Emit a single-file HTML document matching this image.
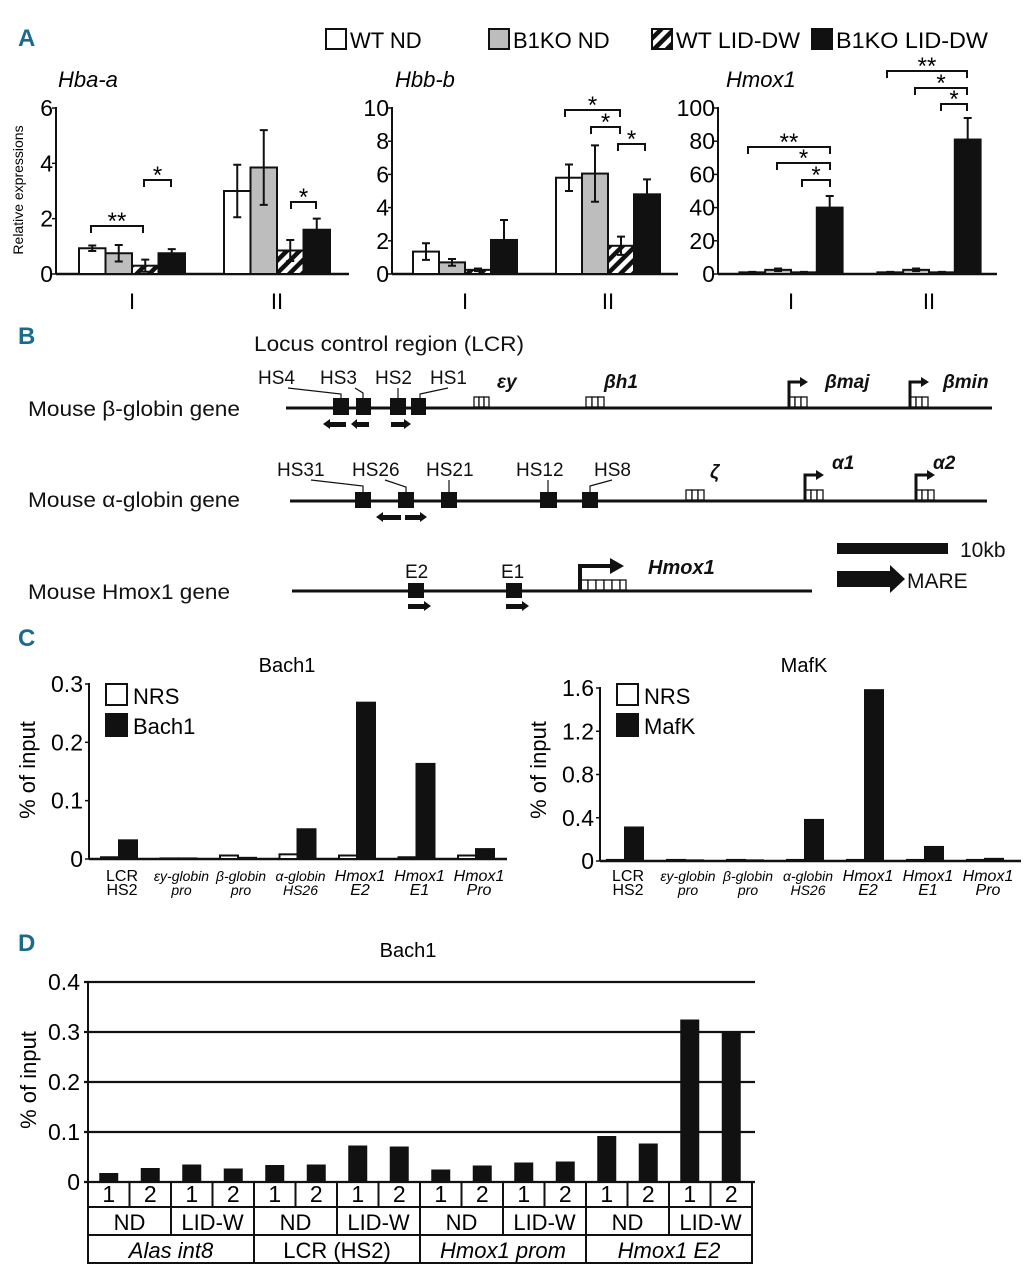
<!DOCTYPE html>
<html><head><meta charset="utf-8">
<style>
html,body{margin:0;padding:0;background:#fff;}
svg{display:block;font-family:"Liberation Sans",Arial,sans-serif;}
.pl{fill:#1b6b8f;font-weight:bold;font-size:24px;}
</style></head>
<body>
<svg id="fig" width="1034" height="1280" viewBox="0 0 1034 1280" xmlns="http://www.w3.org/2000/svg">
<defs>
<pattern id="hatch" patternUnits="userSpaceOnUse" width="9" height="9" patternTransform="rotate(45)">
<rect width="9" height="9" fill="#fff"/><rect width="4.5" height="9" fill="#111"/>
</pattern>
</defs>
<text class="pl" x="18" y="46">A</text>
<text class="pl" x="18" y="344">B</text>
<text class="pl" x="18" y="646">C</text>
<text class="pl" x="18" y="951">D</text>

<g font-size="22">
<g><rect x="326" y="29" width="20" height="20" fill="#fff" stroke="#111" stroke-width="2"/><text x="350" y="48">WT ND</text></g>
<g><rect x="489" y="29" width="20" height="20" fill="#bdbdbd" stroke="#111" stroke-width="2"/><text x="513" y="48">B1KO ND</text></g>
<g><rect x="652" y="29" width="20" height="20" fill="url(#hatch)" stroke="#111" stroke-width="2"/><text x="676" y="48" textLength="124" lengthAdjust="spacingAndGlyphs">WT LID-DW</text></g>
<g><rect x="812" y="29" width="20" height="20" fill="#111" stroke="#111" stroke-width="2"/><text x="836" y="48" textLength="152" lengthAdjust="spacingAndGlyphs">B1KO LID-DW</text></g>
</g>
<text x="23" y="190" font-size="14" text-anchor="middle" transform="rotate(-90 23 190)">Relative expressions</text>
<g id="panelA"></g>

<g id="panelB" font-size="21" fill="#111">
<text x="254" y="351" textLength="270" lengthAdjust="spacingAndGlyphs">Locus control region (LCR)</text>
<text x="28" y="416" textLength="212" lengthAdjust="spacingAndGlyphs">Mouse β-globin gene</text>
<line x1="286" y1="408" x2="992" y2="408" stroke="#111" stroke-width="3"/>
<g>
<rect x="333" y="398" width="16" height="17"/><rect x="356" y="398" width="15" height="17"/><rect x="390" y="398" width="16" height="17"/><rect x="411" y="398" width="15" height="17"/>
</g>
<g font-size="19">
<text x="258" y="384">HS4</text><text x="320" y="384">HS3</text><text x="375" y="384">HS2</text><text x="430" y="384">HS1</text>
</g>
<g stroke="#111" stroke-width="1.2" fill="none">
<polyline points="288,388 341,394 341,398"/><polyline points="355,388 363,393 363,398"/><line x1="398" y1="388" x2="398" y2="398"/><polyline points="448,388 420,394 420,398"/>
</g>
<g>
<polygon points="323,424 330,419 330,422 346,422 346,427 330,427 330,429"/>
<polygon points="351,424 357,419 357,422 369,422 369,427 357,427 357,429"/>
<polygon points="411,424 404,419 404,422 391,422 391,427 404,427 404,429"/>
</g>
<g fill="#fff" stroke="#111" stroke-width="1.3">
<rect x="474" y="397" width="5" height="10"/><rect x="479" y="397" width="5" height="10"/><rect x="484" y="397" width="5" height="10"/>
<rect x="586" y="397" width="6" height="10"/><rect x="592" y="397" width="6" height="10"/><rect x="598" y="397" width="6" height="10"/>
<rect x="789" y="397" width="6" height="10"/><rect x="795" y="397" width="6" height="10"/><rect x="801" y="397" width="6" height="10"/>
<rect x="910" y="397" width="6" height="10"/><rect x="916" y="397" width="6" height="10"/><rect x="922" y="397" width="6" height="10"/>
</g>
<g stroke="#111" stroke-width="3" fill="none">
<polyline points="789,407 789,382 800,382"/><polyline points="910,407 910,382 921,382"/>
</g>
<polygon points="800,377 808,382 800,387"/><polygon points="921,377 929,382 921,387"/>
<g font-weight="bold" font-style="italic" font-size="19">
<text x="497" y="388">εy</text><text x="604" y="388">βh1</text><text x="825" y="388">βmaj</text><text x="943" y="388">βmin</text>
</g>

<text x="28" y="507" textLength="212" lengthAdjust="spacingAndGlyphs">Mouse α-globin gene</text>
<line x1="290" y1="501" x2="987" y2="501" stroke="#111" stroke-width="3"/>
<g>
<rect x="355" y="492" width="16" height="16"/><rect x="398" y="492" width="16" height="16"/><rect x="441" y="492" width="16" height="16"/><rect x="540" y="492" width="17" height="16"/><rect x="582" y="492" width="16" height="16"/>
</g>
<g font-size="19">
<text x="277" y="476">HS31</text><text x="352" y="476">HS26</text><text x="426" y="476">HS21</text><text x="516" y="476">HS12</text><text x="594" y="476">HS8</text>
</g>
<g stroke="#111" stroke-width="1.2" fill="none">
<polyline points="311,480 363,486 363,492"/><polyline points="385,480 406,487 406,492"/><line x1="449" y1="480" x2="449" y2="492"/><line x1="548" y1="480" x2="548" y2="492"/><polyline points="612,480 590,486 590,492"/>
</g>
<polygon points="376,517 383,512 383,515 401,515 401,520 383,520 383,522"/>
<polygon points="427,517 420,512 420,515 405,515 405,520 420,520 420,522"/>
<g fill="#fff" stroke="#111" stroke-width="1.3">
<rect x="686" y="490" width="6" height="10"/><rect x="692" y="490" width="6" height="10"/><rect x="698" y="490" width="6" height="10"/>
<rect x="805" y="490" width="6" height="10"/><rect x="811" y="490" width="6" height="10"/><rect x="817" y="490" width="6" height="10"/>
<rect x="916" y="490" width="6" height="10"/><rect x="922" y="490" width="6" height="10"/><rect x="928" y="490" width="6" height="10"/>
</g>
<g stroke="#111" stroke-width="3" fill="none">
<polyline points="805,500 805,475 816,475"/><polyline points="916,500 916,475 927,475"/>
</g>
<polygon points="816,470 824,475 816,480"/><polygon points="927,470 935,475 927,480"/>
<g font-weight="bold" font-style="italic" font-size="19">
<text x="710" y="478">ζ</text><text x="832" y="469">α1</text><text x="933" y="469">α2</text>
</g>

<text x="28" y="599" textLength="202" lengthAdjust="spacingAndGlyphs">Mouse Hmox1 gene</text>
<line x1="292" y1="591" x2="812" y2="591" stroke="#111" stroke-width="3"/>
<rect x="408" y="583" width="16" height="15"/><rect x="506" y="583" width="16" height="15"/>
<g font-size="19"><text x="405" y="578">E2</text><text x="501" y="578">E1</text></g>
<polygon points="431,606 424,601 424,604 408,604 408,609 424,609 424,611"/>
<polygon points="529,606 522,601 522,604 506,604 506,609 522,609 522,611"/>
<g fill="#fff" stroke="#111" stroke-width="1.3">
<rect x="580" y="580" width="8" height="10"/><rect x="588" y="580" width="8" height="10"/><rect x="596" y="580" width="8" height="10"/><rect x="604" y="580" width="8" height="10"/><rect x="612" y="580" width="8" height="10"/><rect x="620" y="580" width="6" height="10"/>
</g>
<polyline points="580,590 580,566 612,566" stroke="#111" stroke-width="4" fill="none"/>
<polygon points="610,558 624,566 610,574"/>
<text x="648" y="574" font-weight="bold" font-style="italic" font-size="20">Hmox1</text>
<g><rect x="837" y="543" width="111" height="11"/><text x="960" y="557">10kb</text></g>
<g><polygon points="837,571 890,571 890,565 905,579 890,593 890,587 837,587"/><text x="907" y="588">MARE</text></g>
</g>

<g id="panelC"></g>
<g id="panelD"></g>
</svg>
<script>
// ---------- Panel A data ----------
const aGroups = ['I', 'II'];
const aSeries = ['WT ND', 'B1KO ND', 'WT LID-DW', 'B1KO LID-DW'];
const hbaVals = [[0.93, 0.75, 0.3, 0.75], [3.0, 3.85, 0.85, 1.6]];
const hbaErr = [[0.1, 0.3, 0.22, 0.15], [0.95, 1.35, 0.38, 0.4]];
const hbaTicks = [0, 2, 4, 6];
const hbbVals = [[1.35, 0.7, 0.25, 2.05], [5.8, 6.05, 1.7, 4.8]];
const hbbErr = [[0.5, 0.2, 0.08, 1.2], [0.8, 1.7, 0.55, 0.9]];
const hbbTicks = [0, 2, 4, 6, 8, 10];
const hmoxVals = [[1, 2.5, 1, 40], [1, 2.5, 1, 81]];
const hmoxErr = [[0.3, 0.8, 0.3, 7], [0.3, 0.8, 0.3, 13]];
const hmoxTicks = [0, 20, 40, 60, 80, 100];
// ---------- Panel C data ----------
const cCats = [['LCR', 'HS2'], ['εy-globin', 'pro'], ['β-globin', 'pro'], ['α-globin', 'HS26'], ['Hmox1', 'E2'], ['Hmox1', 'E1'], ['Hmox1', 'Pro']];
const cItalic = [false, true, true, true, true, true, true];
const bachNRS = [0.003, 0.001, 0.006, 0.008, 0.006, 0.003, 0.006];
const bachIP = [0.032, 0.001, 0.002, 0.051, 0.268, 0.163, 0.017];
const bachTicks = ['0', '0.1', '0.2', '0.3'];
const mafNRS = [0.01, 0.01, 0.01, 0.01, 0.01, 0.01, 0.01];
const mafIP = [0.31, 0.006, 0.006, 0.38, 1.58, 0.13, 0.02];
const mafTicks = ['0', '0.4', '0.8', '1.2', '1.6'];
// ---------- Panel D data ----------
const dReps = ['1', '2', '1', '2', '1', '2', '1', '2', '1', '2', '1', '2', '1', '2', '1', '2'];
const dDiets = ['ND', 'LID-W', 'ND', 'LID-W', 'ND', 'LID-W', 'ND', 'LID-W'];
const dRegions = ['Alas int8', 'LCR (HS2)', 'Hmox1 prom', 'Hmox1 E2'];
const dRegionItalic = [true, false, true, true];
const dVals = [0.018, 0.028, 0.035, 0.027, 0.034, 0.035, 0.073, 0.071, 0.025, 0.033, 0.039, 0.041, 0.092, 0.077, 0.325, 0.300];
const dTicks = ['0', '0.1', '0.2', '0.3', '0.4'];

const NS = 'http://www.w3.org/2000/svg';
function mk(tag, attrs, parent) {
  const e = document.createElementNS(NS, tag);
  for (const k in attrs) e.setAttribute(k, attrs[k]);
  parent.appendChild(e);
  return e;
}
const fills = ['#fff', '#bdbdbd', 'url(#hatch)', '#111'];

function panelA(parent, cfg, vals, errs, ticks) {
  const g = mk('g', {}, parent);
  
  
  const max = ticks[ticks.length - 1];
  const y = v => cfg.y0 - (v / max) * (cfg.y0 - cfg.yTop);
  const t = mk('text', {x: cfg.tx, y: 87, 'font-size': 22, 'font-style': 'italic'}, g);
  t.textContent = cfg.title;
  
  
  mk('line', {x1: cfg.x0, y1: cfg.yTop - 1, x2: cfg.x0, y2: cfg.y0, stroke: '#111', 'stroke-width': 2}, g);
  mk('line', {x1: cfg.x0, y1: cfg.y0, x2: cfg.x1, y2: cfg.y0, stroke: '#111', 'stroke-width': 2.5}, g);
  ticks.forEach(tv => {
    mk('line', {x1: cfg.x0 - 4, y1: y(tv), x2: cfg.x0, y2: y(tv), stroke: '#111', 'stroke-width': 1.5}, g);
    const tl = mk('text', {x: cfg.x0 - 3, y: y(tv) + 8, 'font-size': 23, 'text-anchor': 'end'}, g);
    tl.textContent = tv;
    
    
  });
  const bw = cfg.bw;
  aGroups.forEach((gn, gi) => {
    const cx = cfg.centers[gi];
    const cl = mk('text', {x: cx, y: 309, 'font-size': 22, 'text-anchor': 'middle'}, g);
    cl.textContent = gn;
    
    
    vals[gi].forEach((v, si) => {
      const bx = cx - 2 * bw + si * bw;
      const r = mk('rect', {x: bx, y: y(v), width: bw, height: cfg.y0 - y(v), fill: fills[si], stroke: '#111', 'stroke-width': 2}, g);
      
      
      const e = errs[gi][si], mx = bx + bw / 2;
      const eb = mk('path', {d: `M${mx},${y(v - e)}V${y(v + e)}M${mx - 4},${y(v + e)}H${mx + 4}M${mx - 4},${y(v - e)}H${mx + 4}`, stroke: '#111', 'stroke-width': 2, fill: 'none'}, g);
      
      
    });
  });
  cfg.brackets.forEach(b => {
    const p = mk('path', {d: `M${b[0]},${b[2] + 7}V${b[2]}H${b[1]}V${b[2] + 7}`, stroke: '#111', 'stroke-width': 2, fill: 'none'}, g);
    
    
    const s = mk('text', {x: (b[0] + b[1]) / 2, y: b[2] + 3, 'font-size': 24, 'text-anchor': 'middle'}, g);
    s.textContent = b[3];
    
    
  });
}
const A = document.getElementById('panelA');
panelA(A, {name: 'chart-hba-a', title: 'Hba-a', tx: 58, x0: 56, x1: 349, y0: 274, yTop: 108, bw: 26.5, centers: [132, 277],
  brackets: [[91, 143, 226, '**'], [144, 171, 180, '*'], [291, 316, 202, '*']]}, hbaVals, hbaErr, hbaTicks);
panelA(A, {name: 'chart-hbb-b', title: 'Hbb-b', tx: 395, x0: 392, x1: 678, y0: 274, yTop: 108, bw: 26, centers: [465, 608],
  brackets: [[565, 620, 110, '*'], [591, 620, 127, '*'], [618, 645, 144, '*']]}, hbbVals, hbbErr, hbbTicks);
panelA(A, {name: 'chart-hmox1', title: 'Hmox1', tx: 726, x0: 718, x1: 997, y0: 274, yTop: 108, bw: 25.8, centers: [791, 929],
  brackets: [[748, 830, 147, '**'], [777, 830, 163, '*'], [802, 830, 180, '*'], [887, 967, 71, '**'], [915, 967, 88, '*'], [941, 967, 104, '*']]}, hmoxVals, hmoxErr, hmoxTicks);

function panelC(parent, cfg, nrs, ip, ticks, ipName) {
  const g = mk('g', {}, parent);
  
  
  const max = parseFloat(ticks[ticks.length - 1]);
  const y = v => cfg.y0 - (v / max) * (cfg.y0 - cfg.yTop);
  const t = mk('text', {x: cfg.titleX, y: 672, 'font-size': 20, 'text-anchor': 'middle'}, g);
  t.textContent = ipName;
  
  
  const yl = mk('text', {x: cfg.x0 - 54, y: 770, 'font-size': 22, 'text-anchor': 'middle', transform: `rotate(-90 ${cfg.x0 - 54} 770)`}, g);
  yl.textContent = '% of input';
  
  
  mk('line', {x1: cfg.x0, y1: cfg.yTop - 1, x2: cfg.x0, y2: cfg.y0, stroke: '#111', 'stroke-width': 2}, g);
  mk('line', {x1: cfg.x0, y1: cfg.y0, x2: cfg.x1, y2: cfg.y0, stroke: '#111', 'stroke-width': 2.5}, g);
  ticks.forEach(tv => {
    const py = y(parseFloat(tv));
    mk('line', {x1: cfg.x0 - 4, y1: py, x2: cfg.x0, y2: py, stroke: '#111', 'stroke-width': 1.5}, g);
    const tl = mk('text', {x: cfg.x0 - 6, y: py + 8, 'font-size': 23, 'text-anchor': 'end'}, g);
    tl.textContent = tv;
    
    
  });
  cCats.forEach((c, i) => {
    const cx = cfg.first + i * cfg.step;
    const b1 = mk('rect', {x: cx - cfg.bw, y: y(nrs[i]), width: cfg.bw, height: cfg.y0 - y(nrs[i]), fill: '#fff', stroke: '#111', 'stroke-width': 2}, g);
    
    
    const b2 = mk('rect', {x: cx, y: y(ip[i]), width: cfg.bw, height: cfg.y0 - y(ip[i]), fill: '#111', stroke: '#111', 'stroke-width': 2}, g);
    
    
    c.forEach((ln, li) => {
      const hm = cCats[i][0].startsWith('Hmox1');
      const tx = mk('text', {x: cx + 3, y: 881 + li * 14, 'font-size': cItalic[i] && !hm ? 14 : 16, 'text-anchor': 'middle', 'font-style': cItalic[i] ? 'italic' : 'normal'}, g);
      tx.textContent = ln;
      
      
    });
  });
  const lg = mk('g', {'font-size': 22}, g);
  
  
  mk('rect', {x: cfg.x0 + 17, y: 684, width: 21, height: 21, fill: '#fff', stroke: '#111', 'stroke-width': 2}, lg);
  mk('text', {x: cfg.x0 + 44, y: 704}, lg).textContent = 'NRS';
  mk('rect', {x: cfg.x0 + 17, y: 714, width: 21, height: 22, fill: '#111', stroke: '#111', 'stroke-width': 2}, lg);
  mk('text', {x: cfg.x0 + 44, y: 734}, lg).textContent = ipName;
}
const C = document.getElementById('panelC');
panelC(C, {name: 'chart-bach1-chip', x0: 89, x1: 507, y0: 859, yTop: 684, first: 119, step: 59.5, bw: 18, titleX: 287}, bachNRS, bachIP, bachTicks, 'Bach1');
panelC(C, {name: 'chart-mafk-chip', x0: 600, x1: 1021, y0: 861, yTop: 688, first: 625, step: 60, bw: 18, titleX: 804}, mafNRS, mafIP, mafTicks, 'MafK');

(function () {
  const P = document.getElementById('panelD');
  const x0 = 88, x1 = 752, y0 = 1182, yTop = 982;
  const max = 0.4;
  const y = v => y0 - (v / max) * (y0 - yTop);
  const cw = (x1 - x0) / dVals.length;
  const t = mk('text', {x: 408, y: 957, 'font-size': 20, 'text-anchor': 'middle'}, P);
  t.textContent = 'Bach1';
  
  
  const yl = mk('text', {x: 36, y: 1080, 'font-size': 22, 'text-anchor': 'middle', transform: 'rotate(-90 36 1080)'}, P);
  yl.textContent = '% of input';
  
  
  mk('line', {x1: x0, y1: yTop - 1, x2: x0, y2: y0, stroke: '#111', 'stroke-width': 2}, P);
  dTicks.forEach(tv => {
    const py = y(parseFloat(tv));
    const gl = mk('line', {x1: x0 - 4, y1: py, x2: x1 + 3, y2: py, stroke: '#111', 'stroke-width': 2.2}, P);
    
    
    const tl = mk('text', {x: x0 - 8, y: py + 8, 'font-size': 23, 'text-anchor': 'end'}, P);
    tl.textContent = tv;
    
    
  });
  dVals.forEach((v, i) => {
    const bx = x0 + i * cw + (cw - 19) / 2;
    const r = mk('rect', {x: bx, y: y(v), width: 19, height: y0 - y(v), fill: '#111'}, P);
    
    
  });
  const rows = [[dReps, 1182, 1207, 23, null], [dDiets, 1207, 1235, 22, null], [dRegions, 1235, 1263, 22, dRegionItalic]];
  rows.forEach(([labels, ya, yb, fs, ital]) => {
    const w = (x1 - x0) / labels.length;
    mk('rect', {x: x0, y: ya, width: x1 - x0, height: yb - ya, fill: 'none', stroke: '#111', 'stroke-width': 2}, P);
    labels.forEach((lb, i) => {
      if (i > 0) mk('line', {x1: x0 + i * w, y1: ya, x2: x0 + i * w, y2: yb, stroke: '#111', 'stroke-width': 2}, P);
      const tx = mk('text', {x: x0 + i * w + w / 2, y: yb - 5, 'font-size': fs, 'text-anchor': 'middle', 'font-style': ital && ital[i] ? 'italic' : 'normal'}, P);
      tx.textContent = lb;
      
      
    });
  });
})();
</script>
</body></html>
